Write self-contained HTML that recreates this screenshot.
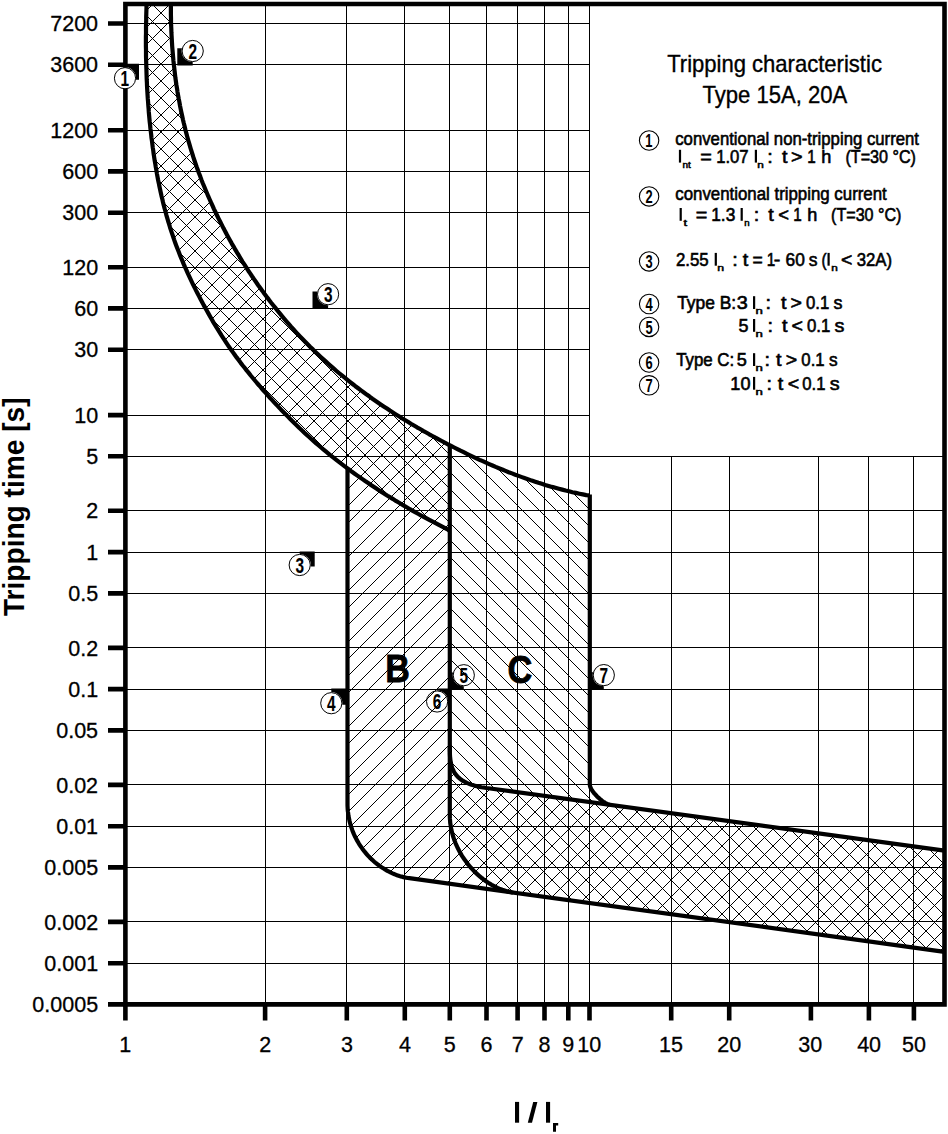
<!DOCTYPE html>
<html><head><meta charset="utf-8"><style>
html,body{margin:0;padding:0;background:#fff;}
svg{display:block;}
text{font-family:"Liberation Sans",sans-serif;}
.lg{stroke:#000;stroke-width:0.6;}
.md{stroke:#000;stroke-width:0.1;}
.tl{stroke:#000;stroke-width:0.3;}
.tt{stroke:#000;stroke-width:0.35;}
.sb{stroke:#000;stroke-width:0.5;}
.bc{stroke:#000;stroke-width:0.8;}
</style></head><body>
<svg width="948" height="1134" viewBox="0 0 948 1134">
<rect width="948" height="1134" fill="#fff"/>
<defs>
<clipPath id="cb"><path d="M146.4,2.0 146.4,4.0 146.5,7.1 146.4,10.4 146.3,13.6 146.2,16.9 146.2,20.2 146.1,23.4 146.0,26.7 146.0,30.0 146.0,33.3 145.9,36.5 145.9,39.8 145.9,43.1 145.9,46.4 146.0,49.6 146.0,52.9 146.0,56.2 146.1,59.5 146.2,62.8 146.3,66.1 146.4,69.3 146.5,72.6 146.6,75.9 146.7,79.2 146.9,82.5 147.0,85.7 147.2,89.0 147.4,92.3 147.6,95.6 147.8,98.9 148.1,102.1 148.3,105.4 148.6,108.7 148.8,112.0 149.1,115.2 149.4,118.5 149.7,121.8 150.1,125.0 150.4,128.3 150.8,131.5 151.2,134.8 151.5,138.0 152.0,141.3 152.4,144.5 152.8,147.8 153.3,151.0 153.7,154.2 154.2,157.5 154.7,160.7 155.3,163.9 155.8,167.1 156.4,170.3 156.9,173.6 157.5,176.8 158.1,180.0 158.8,183.2 159.4,186.3 160.1,189.5 160.8,192.7 161.5,195.9 162.3,199.0 163.0,202.2 163.8,205.4 164.6,208.5 165.5,211.6 166.3,214.8 167.2,217.9 168.1,221.0 169.1,224.1 170.0,227.3 171.0,230.4 172.0,233.4 173.1,236.5 174.1,239.6 175.2,242.7 176.3,245.7 177.5,248.8 178.7,251.8 179.9,254.9 181.1,257.9 182.4,260.9 183.6,263.9 184.9,266.9 186.3,269.9 187.6,272.9 189.0,275.9 190.4,278.9 191.8,281.8 193.2,284.8 194.7,287.7 196.1,290.6 197.6,293.5 199.1,296.4 200.6,299.3 202.2,302.2 203.7,305.1 205.3,307.9 206.9,310.8 208.5,313.6 210.1,316.5 211.7,319.3 213.3,322.1 215.0,324.9 216.7,327.7 218.4,330.4 220.1,333.2 221.8,335.9 223.6,338.6 225.4,341.4 227.2,344.1 229.0,346.8 230.9,349.4 232.8,352.1 234.7,354.8 236.6,357.4 238.6,360.0 240.5,362.6 242.5,365.2 244.6,367.8 246.6,370.4 248.7,372.9 250.7,375.5 252.8,378.0 254.9,380.5 257.0,383.0 259.2,385.5 261.3,388.0 263.5,390.5 265.7,392.9 267.8,395.3 270.0,397.8 272.2,400.2 274.4,402.6 276.7,404.9 278.9,407.3 281.1,409.7 283.4,412.0 285.6,414.3 287.9,416.6 290.2,418.9 292.5,421.2 294.8,423.5 297.1,425.7 299.4,428.0 301.8,430.2 304.1,432.4 306.5,434.6 308.9,436.8 311.3,439.0 313.7,441.1 316.2,443.3 318.7,445.4 321.1,447.5 323.6,449.6 326.1,451.7 328.7,453.8 331.2,455.8 333.8,457.9 336.3,459.9 338.9,461.9 341.5,463.9 344.1,465.9 346.8,467.9 347.5,467.9 347.5,803.3 347.5,805.4 347.6,807.5 347.7,809.5 347.9,811.5 348.2,813.5 348.4,815.5 348.8,817.4 349.2,819.4 349.6,821.3 350.1,823.2 350.6,825.0 351.2,826.9 351.8,828.7 352.4,830.4 353.1,832.2 353.8,833.9 354.6,835.7 355.4,837.3 356.3,839.0 357.1,840.6 358.1,842.2 359.0,843.8 360.0,845.3 361.0,846.8 362.1,848.3 363.1,849.8 364.2,851.2 365.4,852.6 366.5,854.0 367.7,855.3 368.9,856.6 370.2,857.9 371.4,859.1 372.7,860.3 374.0,861.5 375.3,862.6 376.7,863.7 378.1,864.7 379.4,865.8 380.8,866.8 382.3,867.7 383.7,868.6 385.1,869.5 386.6,870.4 388.0,871.2 389.5,871.9 391.0,872.7 392.5,873.4 394.0,874.0 395.5,874.6 397.0,875.2 398.6,875.7 400.1,876.2 401.6,876.6 403.1,877.1 404.7,877.4 406.2,877.7 407.7,878.0 409.3,878.2 944.5,951.8 944.5,850.6 486.5,788.0 484.7,787.7 483.1,787.5 481.4,787.2 479.9,786.9 478.3,786.6 476.9,786.2 475.5,785.9 474.1,785.5 472.8,785.1 471.5,784.7 470.3,784.3 469.1,783.8 468.0,783.4 466.9,782.9 465.9,782.4 464.9,781.9 463.9,781.4 463.0,780.8 462.1,780.3 461.3,779.7 460.5,779.1 459.7,778.5 459.0,777.9 458.3,777.3 457.7,776.6 457.0,776.0 456.5,775.3 455.9,774.6 455.4,773.9 454.9,773.2 454.4,772.5 454.0,771.7 453.6,771.0 453.2,770.2 452.9,769.4 452.5,768.6 452.2,767.8 451.9,767.0 451.7,766.1 451.4,765.3 451.2,764.4 451.0,763.5 450.9,762.6 450.7,761.7 450.5,760.8 450.4,759.9 450.3,758.9 450.2,758.0 450.1,757.0 450.0,756.1 450.0,755.1 449.9,754.1 449.9,753.1 449.9,752.0 449.8,751.0 449.8,750.0 449.8,748.9 449.8,747.9 449.8,746.8 449.8,444.3 447.9,444.3 444.8,442.7 441.7,441.0 438.6,439.3 435.5,437.7 432.4,436.0 429.3,434.3 426.2,432.5 423.1,430.8 420.1,429.0 417.0,427.3 414.0,425.5 410.9,423.7 407.9,421.8 404.9,420.0 401.9,418.2 398.9,416.3 395.9,414.4 392.9,412.5 389.9,410.6 387.0,408.6 384.1,406.7 381.1,404.7 378.2,402.7 375.3,400.7 372.4,398.7 369.6,396.6 366.7,394.6 363.9,392.5 361.0,390.4 358.2,388.3 355.4,386.2 352.6,384.0 349.9,381.8 347.1,379.6 344.4,377.4 341.6,375.2 338.9,373.0 336.2,370.7 333.6,368.4 330.9,366.1 328.3,363.8 325.7,361.4 323.1,359.1 320.5,356.7 317.9,354.3 315.4,351.9 312.9,349.4 310.3,347.0 307.9,344.5 305.4,342.0 303.0,339.5 300.5,336.9 298.1,334.4 295.7,331.8 293.4,329.2 291.0,326.6 288.7,323.9 286.4,321.3 284.1,318.6 281.8,315.9 279.6,313.2 277.4,310.5 275.2,307.7 273.0,305.0 270.8,302.2 268.7,299.4 266.5,296.6 264.4,293.8 262.4,290.9 260.3,288.1 258.2,285.2 256.2,282.3 254.2,279.4 252.2,276.5 250.3,273.6 248.3,270.7 246.4,267.7 244.5,264.7 242.6,261.8 240.8,258.8 239.0,255.7 237.1,252.7 235.3,249.7 233.6,246.6 231.8,243.6 230.1,240.5 228.4,237.4 226.7,234.3 225.1,231.2 223.4,228.1 221.8,224.9 220.2,221.8 218.6,218.6 217.1,215.5 215.6,212.3 214.0,209.1 212.6,205.9 211.1,202.7 209.7,199.5 208.2,196.2 206.9,193.0 205.5,189.7 204.2,186.5 202.8,183.2 201.5,179.9 200.3,176.6 199.0,173.3 197.8,170.0 196.6,166.7 195.5,163.4 194.3,160.0 193.2,156.7 192.2,153.3 191.1,150.0 190.1,146.6 189.1,143.2 188.1,139.8 187.2,136.5 186.3,133.1 185.4,129.7 184.6,126.2 183.7,122.8 182.9,119.4 182.2,116.0 181.4,112.5 180.7,109.1 180.0,105.6 179.4,102.2 178.7,98.7 178.1,95.3 177.5,91.8 177.0,88.3 176.4,84.9 175.9,81.4 175.4,77.9 175.0,74.4 174.6,70.9 174.2,67.4 173.8,63.9 173.4,60.4 173.1,56.9 172.8,53.4 172.5,49.9 172.2,46.3 172.0,42.8 171.8,39.3 171.6,35.8 171.4,32.2 171.3,28.7 171.1,25.2 171.0,21.6 171.0,18.1 170.9,14.6 170.9,11.0 170.9,7.5 170.8,4.0 170.8,2.0 Z"/></clipPath>
<clipPath id="cc"><path d="M146.4,2.0 146.4,4.0 146.5,7.1 146.4,10.4 146.3,13.6 146.2,16.9 146.2,20.2 146.1,23.4 146.0,26.7 146.0,30.0 146.0,33.3 145.9,36.5 145.9,39.8 145.9,43.1 145.9,46.4 146.0,49.6 146.0,52.9 146.0,56.2 146.1,59.5 146.2,62.8 146.3,66.1 146.4,69.3 146.5,72.6 146.6,75.9 146.7,79.2 146.9,82.5 147.0,85.7 147.2,89.0 147.4,92.3 147.6,95.6 147.8,98.9 148.1,102.1 148.3,105.4 148.6,108.7 148.8,112.0 149.1,115.2 149.4,118.5 149.7,121.8 150.1,125.0 150.4,128.3 150.8,131.5 151.2,134.8 151.5,138.0 152.0,141.3 152.4,144.5 152.8,147.8 153.3,151.0 153.7,154.2 154.2,157.5 154.7,160.7 155.3,163.9 155.8,167.1 156.4,170.3 156.9,173.6 157.5,176.8 158.1,180.0 158.8,183.2 159.4,186.3 160.1,189.5 160.8,192.7 161.5,195.9 162.3,199.0 163.0,202.2 163.8,205.4 164.6,208.5 165.5,211.6 166.3,214.8 167.2,217.9 168.1,221.0 169.1,224.1 170.0,227.3 171.0,230.4 172.0,233.4 173.1,236.5 174.1,239.6 175.2,242.7 176.3,245.7 177.5,248.8 178.7,251.8 179.9,254.9 181.1,257.9 182.4,260.9 183.6,263.9 184.9,266.9 186.3,269.9 187.6,272.9 189.0,275.9 190.4,278.9 191.8,281.8 193.2,284.8 194.7,287.7 196.1,290.6 197.6,293.5 199.1,296.4 200.6,299.3 202.2,302.2 203.7,305.1 205.3,307.9 206.9,310.8 208.5,313.6 210.1,316.5 211.7,319.3 213.3,322.1 215.0,324.9 216.7,327.7 218.4,330.4 220.1,333.2 221.8,335.9 223.6,338.6 225.4,341.4 227.2,344.1 229.0,346.8 230.9,349.4 232.8,352.1 234.7,354.8 236.6,357.4 238.6,360.0 240.5,362.6 242.5,365.2 244.6,367.8 246.6,370.4 248.7,372.9 250.7,375.5 252.8,378.0 254.9,380.5 257.0,383.0 259.2,385.5 261.3,388.0 263.5,390.5 265.7,392.9 267.8,395.3 270.0,397.8 272.2,400.2 274.4,402.6 276.7,404.9 278.9,407.3 281.1,409.7 283.4,412.0 285.6,414.3 287.9,416.6 290.2,418.9 292.5,421.2 294.8,423.5 297.1,425.7 299.4,428.0 301.8,430.2 304.1,432.4 306.5,434.6 308.9,436.8 311.3,439.0 313.7,441.1 316.2,443.3 318.7,445.4 321.1,447.5 323.6,449.6 326.1,451.7 328.7,453.8 331.2,455.8 333.8,457.9 336.3,459.9 338.9,461.9 341.5,463.9 344.1,465.9 346.8,467.9 349.4,469.8 352.0,471.8 354.7,473.7 357.4,475.6 360.1,477.5 362.8,479.4 365.5,481.3 368.2,483.1 370.9,484.9 373.7,486.8 376.4,488.6 379.2,490.4 381.9,492.2 384.7,493.9 387.5,495.7 390.3,497.4 393.1,499.1 395.9,500.9 398.7,502.5 401.5,504.2 404.3,505.9 407.1,507.5 409.9,509.2 412.8,510.8 415.6,512.4 418.5,514.0 421.3,515.6 424.1,517.1 427.0,518.7 429.8,520.2 432.7,521.7 435.6,523.2 438.4,524.7 441.3,526.2 444.1,527.6 447.0,529.1 449.8,531.1 449.8,814.8 449.8,816.7 449.9,818.7 450.1,820.7 450.2,822.6 450.5,824.6 450.8,826.5 451.1,828.5 451.5,830.4 452.0,832.3 452.5,834.1 453.0,836.0 453.6,837.9 454.2,839.7 454.9,841.5 455.6,843.3 456.4,845.1 457.2,846.8 458.0,848.6 458.9,850.3 459.8,852.0 460.7,853.6 461.7,855.3 462.7,856.9 463.8,858.5 464.9,860.1 466.0,861.6 467.1,863.1 468.3,864.6 469.5,866.0 470.7,867.5 472.0,868.9 473.2,870.2 474.5,871.6 475.9,872.9 477.2,874.1 478.6,875.4 480.0,876.6 481.3,877.7 482.8,878.8 484.2,879.9 485.6,881.0 487.1,882.0 488.6,883.0 490.1,883.9 491.6,884.8 493.1,885.6 494.6,886.4 496.1,887.2 497.6,887.9 499.2,888.6 500.7,889.2 502.3,889.8 503.8,890.3 505.3,890.8 506.9,891.3 508.4,891.6 510.0,892.0 511.5,892.3 513.1,892.5 944.5,951.8 944.5,850.6 609.4,804.8 609.2,804.7 608.9,804.7 608.6,804.6 608.3,804.5 608.0,804.4 607.7,804.2 607.3,804.1 607.0,803.9 606.6,803.7 606.2,803.5 605.8,803.3 605.4,803.1 605.0,802.8 604.6,802.5 604.2,802.3 603.8,802.0 603.3,801.7 602.9,801.4 602.5,801.0 602.0,800.7 601.6,800.4 601.1,800.0 600.7,799.6 600.2,799.3 599.8,798.9 599.3,798.5 598.9,798.1 598.4,797.7 598.0,797.3 597.6,796.9 597.1,796.4 596.7,796.0 596.3,795.6 595.9,795.1 595.5,794.7 595.1,794.3 594.7,793.8 594.3,793.4 593.9,792.9 593.6,792.5 593.2,792.0 592.9,791.6 592.6,791.1 592.3,790.7 592.0,790.2 591.7,789.8 591.4,789.3 591.2,788.9 591.0,788.4 590.7,788.0 590.6,787.6 590.4,787.1 590.2,786.7 590.1,786.3 590.0,785.9 589.9,785.5 589.8,785.1 589.8,784.7 589.8,784.3 589.8,495.4 586.3,495.1 582.8,494.4 579.4,493.7 575.9,492.9 572.4,492.2 569.0,491.3 565.6,490.5 562.2,489.6 558.8,488.7 555.4,487.8 552.0,486.9 548.6,485.9 545.2,484.9 541.8,483.8 538.5,482.8 535.2,481.7 531.8,480.6 528.5,479.4 525.2,478.3 521.9,477.1 518.6,475.9 515.3,474.7 512.0,473.4 508.7,472.2 505.5,470.9 502.2,469.5 498.9,468.2 495.7,466.9 492.5,465.5 489.2,464.1 486.0,462.7 482.8,461.2 479.6,459.8 476.4,458.3 473.2,456.8 470.0,455.3 466.9,453.8 463.7,452.2 460.5,450.7 457.4,449.1 454.2,447.5 451.1,445.9 447.9,444.3 444.8,442.7 441.7,441.0 438.6,439.3 435.5,437.7 432.4,436.0 429.3,434.3 426.2,432.5 423.1,430.8 420.1,429.0 417.0,427.3 414.0,425.5 410.9,423.7 407.9,421.8 404.9,420.0 401.9,418.2 398.9,416.3 395.9,414.4 392.9,412.5 389.9,410.6 387.0,408.6 384.1,406.7 381.1,404.7 378.2,402.7 375.3,400.7 372.4,398.7 369.6,396.6 366.7,394.6 363.9,392.5 361.0,390.4 358.2,388.3 355.4,386.2 352.6,384.0 349.9,381.8 347.1,379.6 344.4,377.4 341.6,375.2 338.9,373.0 336.2,370.7 333.6,368.4 330.9,366.1 328.3,363.8 325.7,361.4 323.1,359.1 320.5,356.7 317.9,354.3 315.4,351.9 312.9,349.4 310.3,347.0 307.9,344.5 305.4,342.0 303.0,339.5 300.5,336.9 298.1,334.4 295.7,331.8 293.4,329.2 291.0,326.6 288.7,323.9 286.4,321.3 284.1,318.6 281.8,315.9 279.6,313.2 277.4,310.5 275.2,307.7 273.0,305.0 270.8,302.2 268.7,299.4 266.5,296.6 264.4,293.8 262.4,290.9 260.3,288.1 258.2,285.2 256.2,282.3 254.2,279.4 252.2,276.5 250.3,273.6 248.3,270.7 246.4,267.7 244.5,264.7 242.6,261.8 240.8,258.8 239.0,255.7 237.1,252.7 235.3,249.7 233.6,246.6 231.8,243.6 230.1,240.5 228.4,237.4 226.7,234.3 225.1,231.2 223.4,228.1 221.8,224.9 220.2,221.8 218.6,218.6 217.1,215.5 215.6,212.3 214.0,209.1 212.6,205.9 211.1,202.7 209.7,199.5 208.2,196.2 206.9,193.0 205.5,189.7 204.2,186.5 202.8,183.2 201.5,179.9 200.3,176.6 199.0,173.3 197.8,170.0 196.6,166.7 195.5,163.4 194.3,160.0 193.2,156.7 192.2,153.3 191.1,150.0 190.1,146.6 189.1,143.2 188.1,139.8 187.2,136.5 186.3,133.1 185.4,129.7 184.6,126.2 183.7,122.8 182.9,119.4 182.2,116.0 181.4,112.5 180.7,109.1 180.0,105.6 179.4,102.2 178.7,98.7 178.1,95.3 177.5,91.8 177.0,88.3 176.4,84.9 175.9,81.4 175.4,77.9 175.0,74.4 174.6,70.9 174.2,67.4 173.8,63.9 173.4,60.4 173.1,56.9 172.8,53.4 172.5,49.9 172.2,46.3 172.0,42.8 171.8,39.3 171.6,35.8 171.4,32.2 171.3,28.7 171.1,25.2 171.0,21.6 171.0,18.1 170.9,14.6 170.9,11.0 170.9,7.5 170.8,4.0 170.8,2.0 Z"/></clipPath>
</defs>
<path clip-path="url(#cb)" d="M-854.00,960.00L106.00,0.00M-837.00,960.00L123.00,0.00M-820.00,960.00L140.00,0.00M-803.00,960.00L157.00,0.00M-786.00,960.00L174.00,0.00M-769.00,960.00L191.00,0.00M-752.00,960.00L208.00,0.00M-735.00,960.00L225.00,0.00M-718.00,960.00L242.00,0.00M-701.00,960.00L259.00,0.00M-684.00,960.00L276.00,0.00M-667.00,960.00L293.00,0.00M-650.00,960.00L310.00,0.00M-633.00,960.00L327.00,0.00M-616.00,960.00L344.00,0.00M-599.00,960.00L361.00,0.00M-582.00,960.00L378.00,0.00M-565.00,960.00L395.00,0.00M-548.00,960.00L412.00,0.00M-531.00,960.00L429.00,0.00M-514.00,960.00L446.00,0.00M-497.00,960.00L463.00,0.00M-480.00,960.00L480.00,0.00M-463.00,960.00L497.00,0.00M-446.00,960.00L514.00,0.00M-429.00,960.00L531.00,0.00M-412.00,960.00L548.00,0.00M-395.00,960.00L565.00,0.00M-378.00,960.00L582.00,0.00M-361.00,960.00L599.00,0.00M-344.00,960.00L616.00,0.00M-327.00,960.00L633.00,0.00M-310.00,960.00L650.00,0.00M-293.00,960.00L667.00,0.00M-276.00,960.00L684.00,0.00M-259.00,960.00L701.00,0.00M-242.00,960.00L718.00,0.00M-225.00,960.00L735.00,0.00M-208.00,960.00L752.00,0.00M-191.00,960.00L769.00,0.00M-174.00,960.00L786.00,0.00M-157.00,960.00L803.00,0.00M-140.00,960.00L820.00,0.00M-123.00,960.00L837.00,0.00M-106.00,960.00L854.00,0.00M-89.00,960.00L871.00,0.00M-72.00,960.00L888.00,0.00M-55.00,960.00L905.00,0.00M-38.00,960.00L922.00,0.00M-21.00,960.00L939.00,0.00M-4.00,960.00L956.00,0.00M13.00,960.00L973.00,0.00M30.00,960.00L990.00,0.00M47.00,960.00L1007.00,0.00M64.00,960.00L1024.00,0.00M81.00,960.00L1041.00,0.00M98.00,960.00L1058.00,0.00M115.00,960.00L1075.00,0.00M132.00,960.00L1092.00,0.00M149.00,960.00L1109.00,0.00M166.00,960.00L1126.00,0.00M183.00,960.00L1143.00,0.00M200.00,960.00L1160.00,0.00M217.00,960.00L1177.00,0.00M234.00,960.00L1194.00,0.00M251.00,960.00L1211.00,0.00M268.00,960.00L1228.00,0.00M285.00,960.00L1245.00,0.00M302.00,960.00L1262.00,0.00M319.00,960.00L1279.00,0.00M336.00,960.00L1296.00,0.00M353.00,960.00L1313.00,0.00M370.00,960.00L1330.00,0.00M387.00,960.00L1347.00,0.00M404.00,960.00L1364.00,0.00M421.00,960.00L1381.00,0.00M438.00,960.00L1398.00,0.00M455.00,960.00L1415.00,0.00M472.00,960.00L1432.00,0.00M489.00,960.00L1449.00,0.00M506.00,960.00L1466.00,0.00M523.00,960.00L1483.00,0.00M540.00,960.00L1500.00,0.00M557.00,960.00L1517.00,0.00M574.00,960.00L1534.00,0.00M591.00,960.00L1551.00,0.00M608.00,960.00L1568.00,0.00M625.00,960.00L1585.00,0.00M642.00,960.00L1602.00,0.00M659.00,960.00L1619.00,0.00M676.00,960.00L1636.00,0.00M693.00,960.00L1653.00,0.00M710.00,960.00L1670.00,0.00M727.00,960.00L1687.00,0.00M744.00,960.00L1704.00,0.00M761.00,960.00L1721.00,0.00M778.00,960.00L1738.00,0.00M795.00,960.00L1755.00,0.00M812.00,960.00L1772.00,0.00M829.00,960.00L1789.00,0.00M846.00,960.00L1806.00,0.00M863.00,960.00L1823.00,0.00M880.00,960.00L1840.00,0.00M897.00,960.00L1857.00,0.00M914.00,960.00L1874.00,0.00M931.00,960.00L1891.00,0.00M948.00,960.00L1908.00,0.00" stroke="#000" stroke-width="1.00" fill="none" shape-rendering="crispEdges"/>
<path clip-path="url(#cc)" d="M-855.00,0.00L105.00,960.00M-838.00,0.00L122.00,960.00M-821.00,0.00L139.00,960.00M-804.00,0.00L156.00,960.00M-787.00,0.00L173.00,960.00M-770.00,0.00L190.00,960.00M-753.00,0.00L207.00,960.00M-736.00,0.00L224.00,960.00M-719.00,0.00L241.00,960.00M-702.00,0.00L258.00,960.00M-685.00,0.00L275.00,960.00M-668.00,0.00L292.00,960.00M-651.00,0.00L309.00,960.00M-634.00,0.00L326.00,960.00M-617.00,0.00L343.00,960.00M-600.00,0.00L360.00,960.00M-583.00,0.00L377.00,960.00M-566.00,0.00L394.00,960.00M-549.00,0.00L411.00,960.00M-532.00,0.00L428.00,960.00M-515.00,0.00L445.00,960.00M-498.00,0.00L462.00,960.00M-481.00,0.00L479.00,960.00M-464.00,0.00L496.00,960.00M-447.00,0.00L513.00,960.00M-430.00,0.00L530.00,960.00M-413.00,0.00L547.00,960.00M-396.00,0.00L564.00,960.00M-379.00,0.00L581.00,960.00M-362.00,0.00L598.00,960.00M-345.00,0.00L615.00,960.00M-328.00,0.00L632.00,960.00M-311.00,0.00L649.00,960.00M-294.00,0.00L666.00,960.00M-277.00,0.00L683.00,960.00M-260.00,0.00L700.00,960.00M-243.00,0.00L717.00,960.00M-226.00,0.00L734.00,960.00M-209.00,0.00L751.00,960.00M-192.00,0.00L768.00,960.00M-175.00,0.00L785.00,960.00M-158.00,0.00L802.00,960.00M-141.00,0.00L819.00,960.00M-124.00,0.00L836.00,960.00M-107.00,0.00L853.00,960.00M-90.00,0.00L870.00,960.00M-73.00,0.00L887.00,960.00M-56.00,0.00L904.00,960.00M-39.00,0.00L921.00,960.00M-22.00,0.00L938.00,960.00M-5.00,0.00L955.00,960.00M12.00,0.00L972.00,960.00M29.00,0.00L989.00,960.00M46.00,0.00L1006.00,960.00M63.00,0.00L1023.00,960.00M80.00,0.00L1040.00,960.00M97.00,0.00L1057.00,960.00M114.00,0.00L1074.00,960.00M131.00,0.00L1091.00,960.00M148.00,0.00L1108.00,960.00M165.00,0.00L1125.00,960.00M182.00,0.00L1142.00,960.00M199.00,0.00L1159.00,960.00M216.00,0.00L1176.00,960.00M233.00,0.00L1193.00,960.00M250.00,0.00L1210.00,960.00M267.00,0.00L1227.00,960.00M284.00,0.00L1244.00,960.00M301.00,0.00L1261.00,960.00M318.00,0.00L1278.00,960.00M335.00,0.00L1295.00,960.00M352.00,0.00L1312.00,960.00M369.00,0.00L1329.00,960.00M386.00,0.00L1346.00,960.00M403.00,0.00L1363.00,960.00M420.00,0.00L1380.00,960.00M437.00,0.00L1397.00,960.00M454.00,0.00L1414.00,960.00M471.00,0.00L1431.00,960.00M488.00,0.00L1448.00,960.00M505.00,0.00L1465.00,960.00M522.00,0.00L1482.00,960.00M539.00,0.00L1499.00,960.00M556.00,0.00L1516.00,960.00M573.00,0.00L1533.00,960.00M590.00,0.00L1550.00,960.00M607.00,0.00L1567.00,960.00M624.00,0.00L1584.00,960.00M641.00,0.00L1601.00,960.00M658.00,0.00L1618.00,960.00M675.00,0.00L1635.00,960.00M692.00,0.00L1652.00,960.00M709.00,0.00L1669.00,960.00M726.00,0.00L1686.00,960.00M743.00,0.00L1703.00,960.00M760.00,0.00L1720.00,960.00M777.00,0.00L1737.00,960.00M794.00,0.00L1754.00,960.00M811.00,0.00L1771.00,960.00M828.00,0.00L1788.00,960.00M845.00,0.00L1805.00,960.00M862.00,0.00L1822.00,960.00M879.00,0.00L1839.00,960.00M896.00,0.00L1856.00,960.00M913.00,0.00L1873.00,960.00M930.00,0.00L1890.00,960.00M947.00,0.00L1907.00,960.00" stroke="#000" stroke-width="1.00" fill="none" shape-rendering="crispEdges"/>
<path d="M125.4,23.5H589.8 M125.4,64.5H589.8 M125.4,130.5H589.8 M125.4,171.5H589.8 M125.4,212.5H589.8 M125.4,267.5H589.8 M125.4,308.5H589.8 M125.4,349.5H589.8 M125.4,415.5H589.8 M125.4,456.5H944.5 M125.4,510.5H944.5 M125.4,552.5H944.5 M125.4,593.5H944.5 M125.4,647.5H944.5 M125.4,689.5H944.5 M125.4,730.5H944.5 M125.4,784.5H944.5 M125.4,826.5H944.5 M125.4,867.5H944.5 M125.4,921.5H944.5 M125.4,963.5H944.5 M265.5,4.0V1004.4 M346.5,4.0V1004.4 M404.5,4.0V1004.4 M449.5,4.0V1004.4 M486.5,4.0V1004.4 M517.5,4.0V1004.4 M544.5,4.0V1004.4 M568.5,4.0V1004.4 M589.5,4.0V1004.4 M671.5,456.3V1004.4 M729.5,456.3V1004.4 M818.5,456.3V1004.4 M868.5,456.3V1004.4 M913.5,456.3V1004.4" stroke="#000" stroke-width="1.0" fill="none" shape-rendering="crispEdges"/>
<polyline points="146.4,4.0 146.5,7.1 146.4,10.4 146.3,13.6 146.2,16.9 146.2,20.2 146.1,23.4 146.0,26.7 146.0,30.0 146.0,33.3 145.9,36.5 145.9,39.8 145.9,43.1 145.9,46.4 146.0,49.6 146.0,52.9 146.0,56.2 146.1,59.5 146.2,62.8 146.3,66.1 146.4,69.3 146.5,72.6 146.6,75.9 146.7,79.2 146.9,82.5 147.0,85.7 147.2,89.0 147.4,92.3 147.6,95.6 147.8,98.9 148.1,102.1 148.3,105.4 148.6,108.7 148.8,112.0 149.1,115.2 149.4,118.5 149.7,121.8 150.1,125.0 150.4,128.3 150.8,131.5 151.2,134.8 151.5,138.0 152.0,141.3 152.4,144.5 152.8,147.8 153.3,151.0 153.7,154.2 154.2,157.5 154.7,160.7 155.3,163.9 155.8,167.1 156.4,170.3 156.9,173.6 157.5,176.8 158.1,180.0 158.8,183.2 159.4,186.3 160.1,189.5 160.8,192.7 161.5,195.9 162.3,199.0 163.0,202.2 163.8,205.4 164.6,208.5 165.5,211.6 166.3,214.8 167.2,217.9 168.1,221.0 169.1,224.1 170.0,227.3 171.0,230.4 172.0,233.4 173.1,236.5 174.1,239.6 175.2,242.7 176.3,245.7 177.5,248.8 178.7,251.8 179.9,254.9 181.1,257.9 182.4,260.9 183.6,263.9 184.9,266.9 186.3,269.9 187.6,272.9 189.0,275.9 190.4,278.9 191.8,281.8 193.2,284.8 194.7,287.7 196.1,290.6 197.6,293.5 199.1,296.4 200.6,299.3 202.2,302.2 203.7,305.1 205.3,307.9 206.9,310.8 208.5,313.6 210.1,316.5 211.7,319.3 213.3,322.1 215.0,324.9 216.7,327.7 218.4,330.4 220.1,333.2 221.8,335.9 223.6,338.6 225.4,341.4 227.2,344.1 229.0,346.8 230.9,349.4 232.8,352.1 234.7,354.8 236.6,357.4 238.6,360.0 240.5,362.6 242.5,365.2 244.6,367.8 246.6,370.4 248.7,372.9 250.7,375.5 252.8,378.0 254.9,380.5 257.0,383.0 259.2,385.5 261.3,388.0 263.5,390.5 265.7,392.9 267.8,395.3 270.0,397.8 272.2,400.2 274.4,402.6 276.7,404.9 278.9,407.3 281.1,409.7 283.4,412.0 285.6,414.3 287.9,416.6 290.2,418.9 292.5,421.2 294.8,423.5 297.1,425.7 299.4,428.0 301.8,430.2 304.1,432.4 306.5,434.6 308.9,436.8 311.3,439.0 313.7,441.1 316.2,443.3 318.7,445.4 321.1,447.5 323.6,449.6 326.1,451.7 328.7,453.8 331.2,455.8 333.8,457.9 336.3,459.9 338.9,461.9 341.5,463.9 344.1,465.9 346.8,467.9 349.4,469.8 352.0,471.8 354.7,473.7 357.4,475.6 360.1,477.5 362.8,479.4 365.5,481.3 368.2,483.1 370.9,484.9 373.7,486.8 376.4,488.6 379.2,490.4 381.9,492.2 384.7,493.9 387.5,495.7 390.3,497.4 393.1,499.1 395.9,500.9 398.7,502.5 401.5,504.2 404.3,505.9 407.1,507.5 409.9,509.2 412.8,510.8 415.6,512.4 418.5,514.0 421.3,515.6 424.1,517.1 427.0,518.7 429.8,520.2 432.7,521.7 435.6,523.2 438.4,524.7 441.3,526.2 444.1,527.6 447.0,529.1 449.8,531.1" fill="none" stroke="#000" stroke-width="4.2" stroke-linejoin="round"/>
<polyline points="170.8,4.0 170.9,7.5 170.9,11.0 170.9,14.6 171.0,18.1 171.0,21.6 171.1,25.2 171.3,28.7 171.4,32.2 171.6,35.8 171.8,39.3 172.0,42.8 172.2,46.3 172.5,49.9 172.8,53.4 173.1,56.9 173.4,60.4 173.8,63.9 174.2,67.4 174.6,70.9 175.0,74.4 175.4,77.9 175.9,81.4 176.4,84.9 177.0,88.3 177.5,91.8 178.1,95.3 178.7,98.7 179.4,102.2 180.0,105.6 180.7,109.1 181.4,112.5 182.2,116.0 182.9,119.4 183.7,122.8 184.6,126.2 185.4,129.7 186.3,133.1 187.2,136.5 188.1,139.8 189.1,143.2 190.1,146.6 191.1,150.0 192.2,153.3 193.2,156.7 194.3,160.0 195.5,163.4 196.6,166.7 197.8,170.0 199.0,173.3 200.3,176.6 201.5,179.9 202.8,183.2 204.2,186.5 205.5,189.7 206.9,193.0 208.2,196.2 209.7,199.5 211.1,202.7 212.6,205.9 214.0,209.1 215.6,212.3 217.1,215.5 218.6,218.6 220.2,221.8 221.8,224.9 223.4,228.1 225.1,231.2 226.7,234.3 228.4,237.4 230.1,240.5 231.8,243.6 233.6,246.6 235.3,249.7 237.1,252.7 239.0,255.7 240.8,258.8 242.6,261.8 244.5,264.7 246.4,267.7 248.3,270.7 250.3,273.6 252.2,276.5 254.2,279.4 256.2,282.3 258.2,285.2 260.3,288.1 262.4,290.9 264.4,293.8 266.5,296.6 268.7,299.4 270.8,302.2 273.0,305.0 275.2,307.7 277.4,310.5 279.6,313.2 281.8,315.9 284.1,318.6 286.4,321.3 288.7,323.9 291.0,326.6 293.4,329.2 295.7,331.8 298.1,334.4 300.5,336.9 303.0,339.5 305.4,342.0 307.9,344.5 310.3,347.0 312.9,349.4 315.4,351.9 317.9,354.3 320.5,356.7 323.1,359.1 325.7,361.4 328.3,363.8 330.9,366.1 333.6,368.4 336.2,370.7 338.9,373.0 341.6,375.2 344.4,377.4 347.1,379.6 349.9,381.8 352.6,384.0 355.4,386.2 358.2,388.3 361.0,390.4 363.9,392.5 366.7,394.6 369.6,396.6 372.4,398.7 375.3,400.7 378.2,402.7 381.1,404.7 384.1,406.7 387.0,408.6 389.9,410.6 392.9,412.5 395.9,414.4 398.9,416.3 401.9,418.2 404.9,420.0 407.9,421.8 410.9,423.7 414.0,425.5 417.0,427.3 420.1,429.0 423.1,430.8 426.2,432.5 429.3,434.3 432.4,436.0 435.5,437.7 438.6,439.3 441.7,441.0 444.8,442.7 447.9,444.3 451.1,445.9 454.2,447.5 457.4,449.1 460.5,450.7 463.7,452.2 466.9,453.8 470.0,455.3 473.2,456.8 476.4,458.3 479.6,459.8 482.8,461.2 486.0,462.7 489.2,464.1 492.5,465.5 495.7,466.9 498.9,468.2 502.2,469.5 505.5,470.9 508.7,472.2 512.0,473.4 515.3,474.7 518.6,475.9 521.9,477.1 525.2,478.3 528.5,479.4 531.8,480.6 535.2,481.7 538.5,482.8 541.8,483.8 545.2,484.9 548.6,485.9 552.0,486.9 555.4,487.8 558.8,488.7 562.2,489.6 565.6,490.5 569.0,491.3 572.4,492.2 575.9,492.9 579.4,493.7 582.8,494.4 586.3,495.1 589.8,495.4" fill="none" stroke="#000" stroke-width="4.2" stroke-linejoin="round"/>
<polyline points="347.5,468.9 347.5,803.3 347.5,805.4 347.6,807.5 347.7,809.5 347.9,811.5 348.2,813.5 348.4,815.5 348.8,817.4 349.2,819.4 349.6,821.3 350.1,823.2 350.6,825.0 351.2,826.9 351.8,828.7 352.4,830.4 353.1,832.2 353.8,833.9 354.6,835.7 355.4,837.3 356.3,839.0 357.1,840.6 358.1,842.2 359.0,843.8 360.0,845.3 361.0,846.8 362.1,848.3 363.1,849.8 364.2,851.2 365.4,852.6 366.5,854.0 367.7,855.3 368.9,856.6 370.2,857.9 371.4,859.1 372.7,860.3 374.0,861.5 375.3,862.6 376.7,863.7 378.1,864.7 379.4,865.8 380.8,866.8 382.3,867.7 383.7,868.6 385.1,869.5 386.6,870.4 388.0,871.2 389.5,871.9 391.0,872.7 392.5,873.4 394.0,874.0 395.5,874.6 397.0,875.2 398.6,875.7 400.1,876.2 401.6,876.6 403.1,877.1 404.7,877.4 406.2,877.7 407.7,878.0 409.3,878.2 944.5,951.8" fill="none" stroke="#000" stroke-width="4.2" stroke-linejoin="round"/>
<polyline points="449.8,444.3 449.8,814.8 449.8,816.7 449.9,818.7 450.1,820.7 450.2,822.6 450.5,824.6 450.8,826.5 451.1,828.5 451.5,830.4 452.0,832.3 452.5,834.1 453.0,836.0 453.6,837.9 454.2,839.7 454.9,841.5 455.6,843.3 456.4,845.1 457.2,846.8 458.0,848.6 458.9,850.3 459.8,852.0 460.7,853.6 461.7,855.3 462.7,856.9 463.8,858.5 464.9,860.1 466.0,861.6 467.1,863.1 468.3,864.6 469.5,866.0 470.7,867.5 472.0,868.9 473.2,870.2 474.5,871.6 475.9,872.9 477.2,874.1 478.6,875.4 480.0,876.6 481.3,877.7 482.8,878.8 484.2,879.9 485.6,881.0 487.1,882.0 488.6,883.0 490.1,883.9 491.6,884.8 493.1,885.6 494.6,886.4 496.1,887.2 497.6,887.9 499.2,888.6 500.7,889.2 502.3,889.8 503.8,890.3 505.3,890.8 506.9,891.3 508.4,891.6 510.0,892.0 511.5,892.3 513.1,892.5" fill="none" stroke="#000" stroke-width="4.2" stroke-linejoin="round"/>
<polyline points="449.8,746.8 449.8,747.9 449.8,748.9 449.8,750.0 449.8,751.0 449.9,752.0 449.9,753.1 449.9,754.1 450.0,755.1 450.0,756.1 450.1,757.0 450.2,758.0 450.3,758.9 450.4,759.9 450.5,760.8 450.7,761.7 450.9,762.6 451.0,763.5 451.2,764.4 451.4,765.3 451.7,766.1 451.9,767.0 452.2,767.8 452.5,768.6 452.9,769.4 453.2,770.2 453.6,771.0 454.0,771.7 454.4,772.5 454.9,773.2 455.4,773.9 455.9,774.6 456.5,775.3 457.0,776.0 457.7,776.6 458.3,777.3 459.0,777.9 459.7,778.5 460.5,779.1 461.3,779.7 462.1,780.3 463.0,780.8 463.9,781.4 464.9,781.9 465.9,782.4 466.9,782.9 468.0,783.4 469.1,783.8 470.3,784.3 471.5,784.7 472.8,785.1 474.1,785.5 475.5,785.9 476.9,786.2 478.3,786.6 479.9,786.9 481.4,787.2 483.1,787.5 484.7,787.7 486.5,788.0 944.5,850.6" fill="none" stroke="#000" stroke-width="4.2" stroke-linejoin="round"/>
<polyline points="589.8,494.4 589.8,784.3 589.8,784.7 589.8,785.1 589.9,785.5 590.0,785.9 590.1,786.3 590.2,786.7 590.4,787.1 590.6,787.6 590.7,788.0 591.0,788.4 591.2,788.9 591.4,789.3 591.7,789.8 592.0,790.2 592.3,790.7 592.6,791.1 592.9,791.6 593.2,792.0 593.6,792.5 593.9,792.9 594.3,793.4 594.7,793.8 595.1,794.3 595.5,794.7 595.9,795.1 596.3,795.6 596.7,796.0 597.1,796.4 597.6,796.9 598.0,797.3 598.4,797.7 598.9,798.1 599.3,798.5 599.8,798.9 600.2,799.3 600.7,799.6 601.1,800.0 601.6,800.4 602.0,800.7 602.5,801.0 602.9,801.4 603.3,801.7 603.8,802.0 604.2,802.3 604.6,802.5 605.0,802.8 605.4,803.1 605.8,803.3 606.2,803.5 606.6,803.7 607.0,803.9 607.3,804.1 607.7,804.2 608.0,804.4 608.3,804.5 608.6,804.6 608.9,804.7 609.2,804.7 609.4,804.8" fill="none" stroke="#000" stroke-width="4.2" stroke-linejoin="round"/>
<path d="M125.4,4.0 H944.5 V1004.4 H125.4 Z" fill="none" stroke="#000" stroke-width="4.6"/>
<path d="M108,23.5H125.4 M108,64.8H125.4 M108,130.2H125.4 M108,171.4H125.4 M108,212.7H125.4 M108,267.2H125.4 M108,308.4H125.4 M108,349.7H125.4 M108,415.1H125.4 M108,456.3H125.4 M108,510.8H125.4 M108,552.1H125.4 M108,593.4H125.4 M108,647.9H125.4 M108,689.1H125.4 M108,730.4H125.4 M108,784.9H125.4 M108,826.2H125.4 M108,867.4H125.4 M108,921.9H125.4 M108,963.2H125.4 M108,1004.4H125.4 M125.4,1004.4V1020.5 M265.1,1004.4V1020.5 M346.8,1004.4V1020.5 M404.8,1004.4V1020.5 M449.8,1004.4V1020.5 M486.5,1004.4V1020.5 M517.6,1004.4V1020.5 M544.5,1004.4V1020.5 M568.3,1004.4V1020.5 M589.5,1004.4V1020.5 M671.2,1004.4V1020.5 M729.2,1004.4V1020.5 M810.9,1004.4V1020.5 M868.9,1004.4V1020.5 M913.9,1004.4V1020.5" stroke="#000" stroke-width="4.6" fill="none"/>
<g fill="#000">
<text x="98.1" y="31.1" font-size="21.5" text-anchor="end" class="tl">7200</text>
<text x="98.1" y="72.4" font-size="21.5" text-anchor="end" class="tl">3600</text>
<text x="98.1" y="137.8" font-size="21.5" text-anchor="end" class="tl">1200</text>
<text x="98.1" y="179.0" font-size="21.5" text-anchor="end" class="tl">600</text>
<text x="98.1" y="220.3" font-size="21.5" text-anchor="end" class="tl">300</text>
<text x="98.1" y="274.8" font-size="21.5" text-anchor="end" class="tl">120</text>
<text x="98.1" y="316.0" font-size="21.5" text-anchor="end" class="tl">60</text>
<text x="98.1" y="357.3" font-size="21.5" text-anchor="end" class="tl">30</text>
<text x="98.1" y="422.7" font-size="21.5" text-anchor="end" class="tl">10</text>
<text x="98.1" y="463.9" font-size="21.5" text-anchor="end" class="tl">5</text>
<text x="98.1" y="518.4" font-size="21.5" text-anchor="end" class="tl">2</text>
<text x="98.1" y="559.7" font-size="21.5" text-anchor="end" class="tl">1</text>
<text x="98.1" y="601.0" font-size="21.5" text-anchor="end" class="tl">0.5</text>
<text x="98.1" y="655.5" font-size="21.5" text-anchor="end" class="tl">0.2</text>
<text x="98.1" y="696.7" font-size="21.5" text-anchor="end" class="tl">0.1</text>
<text x="98.1" y="738.0" font-size="21.5" text-anchor="end" class="tl">0.05</text>
<text x="98.1" y="792.5" font-size="21.5" text-anchor="end" class="tl">0.02</text>
<text x="98.1" y="833.8" font-size="21.5" text-anchor="end" class="tl">0.01</text>
<text x="98.1" y="875.0" font-size="21.5" text-anchor="end" class="tl">0.005</text>
<text x="98.1" y="929.5" font-size="21.5" text-anchor="end" class="tl">0.002</text>
<text x="98.1" y="970.8" font-size="21.5" text-anchor="end" class="tl">0.001</text>
<text x="98.1" y="1012.0" font-size="21.5" text-anchor="end" class="tl">0.0005</text>
<text transform="translate(119.17 1052.40) scale(1.000 1)" font-size="21.50" class="tl">1</text>
<text transform="translate(259.14 1052.40) scale(1.000 1)" font-size="21.50" class="tl">2</text>
<text transform="translate(340.92 1052.40) scale(1.000 1)" font-size="21.50" class="tl">3</text>
<text transform="translate(398.90 1052.40) scale(1.000 1)" font-size="21.50" class="tl">4</text>
<text transform="translate(443.83 1052.40) scale(1.000 1)" font-size="21.50" class="tl">5</text>
<text transform="translate(480.52 1052.40) scale(1.000 1)" font-size="21.50" class="tl">6</text>
<text transform="translate(511.64 1052.40) scale(1.000 1)" font-size="21.50" class="tl">7</text>
<text transform="translate(538.50 1052.40) scale(1.000 1)" font-size="21.50" class="tl">8</text>
<text transform="translate(562.30 1052.40) scale(1.000 1)" font-size="21.50" class="tl">9</text>
<text transform="translate(577.19 1052.40) scale(1.000 1)" font-size="21.50" class="tl">10</text>
<text transform="translate(658.92 1052.40) scale(1.000 1)" font-size="21.50" class="tl">15</text>
<text transform="translate(717.17 1052.40) scale(1.000 1)" font-size="21.50" class="tl">20</text>
<text transform="translate(798.37 1052.40) scale(1.000 1)" font-size="21.50" class="tl">30</text>
<text transform="translate(857.14 1052.40) scale(1.000 1)" font-size="21.50" class="tl">40</text>
<text transform="translate(901.96 1052.40) scale(1.000 1)" font-size="21.50" class="tl">50</text>
<path d="M139.00,63.80 V79.70 H136.00 A11.10,11.10 0 0 0 125.00,67.10 V63.80 Z" fill="#000"/>
<circle cx="125.0" cy="78.2" r="10.60" fill="#fff" stroke="#000" stroke-width="1.0"/>
<text transform="translate(120.42 86.10) scale(0.700 1)" font-size="22.00" font-weight="bold" class="md">1</text>
<path d="M177.30,65.40 V48.20 H181.96 A11.10,11.10 0 0 0 192.70,62.10 V65.40 Z" fill="#000"/>
<circle cx="192.7" cy="51.0" r="10.60" fill="none" stroke="#000" stroke-width="1.0"/>
<text transform="translate(188.47 58.90) scale(0.700 1)" font-size="22.00" font-weight="bold" class="md">2</text>
<path d="M312.50,309.00 V291.40 H317.36 A11.10,11.10 0 0 0 328.10,305.30 V309.00 Z" fill="#000"/>
<circle cx="328.1" cy="294.2" r="10.60" fill="none" stroke="#000" stroke-width="1.0"/>
<text transform="translate(323.90 302.10) scale(0.700 1)" font-size="22.00" font-weight="bold" class="md">3</text>
<path d="M314.70,551.40 V566.50 H310.70 A11.10,11.10 0 0 0 299.70,553.90 V551.40 Z" fill="#000"/>
<circle cx="299.7" cy="565.0" r="10.60" fill="none" stroke="#000" stroke-width="1.0"/>
<text transform="translate(295.50 572.90) scale(0.700 1)" font-size="22.00" font-weight="bold" class="md">3</text>
<path d="M348.60,688.50 V704.70 H342.30 A11.10,11.10 0 0 0 331.30,692.10 V688.50 Z" fill="#000"/>
<circle cx="331.3" cy="703.2" r="10.60" fill="none" stroke="#000" stroke-width="1.0"/>
<text transform="translate(326.95 711.10) scale(0.700 1)" font-size="22.00" font-weight="bold" class="md">4</text>
<path d="M448.70,690.10 V672.40 H453.06 A11.10,11.10 0 0 0 463.80,686.30 V690.10 Z" fill="#000"/>
<circle cx="463.8" cy="675.2" r="10.60" fill="none" stroke="#000" stroke-width="1.0"/>
<text transform="translate(459.49 683.10) scale(0.700 1)" font-size="22.00" font-weight="bold" class="md">5</text>
<path d="M450.90,688.50 V703.00 H448.10 A11.10,11.10 0 0 0 437.10,690.40 V688.50 Z" fill="#000"/>
<circle cx="437.1" cy="701.5" r="10.60" fill="none" stroke="#000" stroke-width="1.0"/>
<text transform="translate(432.83 709.40) scale(0.700 1)" font-size="22.00" font-weight="bold" class="md">6</text>
<path d="M588.70,690.10 V672.30 H593.06 A11.10,11.10 0 0 0 603.80,686.20 V690.10 Z" fill="#000"/>
<circle cx="603.8" cy="675.1" r="10.60" fill="none" stroke="#000" stroke-width="1.0"/>
<text transform="translate(599.53 683.00) scale(0.700 1)" font-size="22.00" font-weight="bold" class="md">7</text>
<text transform="translate(385.28 681.60) scale(0.897 1)" font-size="38.00" font-weight="bold" class="bc">B</text>
<text transform="translate(507.53 682.80) scale(0.904 1)" font-size="38.00" font-weight="bold" class="bc">C</text>
<circle cx="649.1" cy="140.5" r="9.7" fill="#fff" stroke="#000" stroke-width="1.1"/>
<text transform="translate(645.26 147.10) scale(0.680 1)" font-size="19.00" font-weight="bold">1</text>
<circle cx="649.1" cy="196.4" r="9.7" fill="#fff" stroke="#000" stroke-width="1.1"/>
<text transform="translate(645.55 203.00) scale(0.680 1)" font-size="19.00" font-weight="bold">2</text>
<circle cx="649.1" cy="261.4" r="9.7" fill="#fff" stroke="#000" stroke-width="1.1"/>
<text transform="translate(645.58 268.00) scale(0.680 1)" font-size="19.00" font-weight="bold">3</text>
<circle cx="649.1" cy="304.0" r="9.7" fill="#fff" stroke="#000" stroke-width="1.1"/>
<text transform="translate(645.45 310.60) scale(0.680 1)" font-size="19.00" font-weight="bold">4</text>
<circle cx="649.1" cy="326.9" r="9.7" fill="#fff" stroke="#000" stroke-width="1.1"/>
<text transform="translate(645.48 333.50) scale(0.680 1)" font-size="19.00" font-weight="bold">5</text>
<circle cx="649.1" cy="362.5" r="9.7" fill="#fff" stroke="#000" stroke-width="1.1"/>
<text transform="translate(645.51 369.10) scale(0.680 1)" font-size="19.00" font-weight="bold">6</text>
<circle cx="649.1" cy="385.3" r="9.7" fill="#fff" stroke="#000" stroke-width="1.1"/>
<text transform="translate(645.51 391.90) scale(0.680 1)" font-size="19.00" font-weight="bold">7</text>
<text transform="translate(667.15 72.30) scale(0.959 1)" font-size="23.00" class="tt">Tripping characteristic</text>
<text transform="translate(702.55 102.70) scale(0.960 1)" font-size="23.00" class="tt">Type 15A, 20A</text>
<text transform="translate(675.25 144.60) scale(0.930 1)" font-size="18.00" class="lg">conventional non-tripping current</text>
<rect x="678.9" y="149.8" width="2.2" height="12.8" fill="#000"/>
<text transform="translate(682.55 167.80) scale(1.136 1)" font-size="8.80" class="sb">nt</text>
<text transform="translate(700.21 162.60) scale(1.100 1)" font-size="18.00" class="lg">=</text>
<text transform="translate(716.15 162.60) scale(0.928 1)" font-size="18.00" class="lg">1.07</text>
<rect x="754.8" y="149.8" width="2.2" height="12.8" fill="#000"/>
<text transform="translate(757.24 167.80) scale(1.337 1)" font-size="8.80" class="sb">n</text>
<text transform="translate(767.23 162.60) scale(1.100 1)" font-size="18.00" class="lg">:</text>
<text transform="translate(782.03 162.60) scale(1.100 1)" font-size="18.00" class="lg">t</text>
<text transform="translate(790.91 162.60) scale(1.100 1)" font-size="18.00" class="lg">&gt;</text>
<text transform="translate(807.36 162.60) scale(0.850 1)" font-size="18.00" class="lg">1</text>
<text transform="translate(821.13 162.60) scale(1.005 1)" font-size="18.00" class="lg">h</text>
<text transform="translate(845.43 162.60) scale(0.897 1)" font-size="18.00" class="lg">(T=30 °C)</text>
<text transform="translate(675.24 199.70) scale(0.936 1)" font-size="18.00" class="lg">conventional tripping current</text>
<rect x="679.6" y="208.0" width="2.2" height="12.8" fill="#000"/>
<text transform="translate(683.51 226.00) scale(1.471 1)" font-size="8.80" class="sb">t</text>
<text transform="translate(695.76 220.80) scale(1.100 1)" font-size="18.00" class="lg">=</text>
<text transform="translate(711.20 220.80) scale(0.962 1)" font-size="18.00" class="lg">1.3</text>
<rect x="740.6" y="208.0" width="2.2" height="12.8" fill="#000"/>
<text transform="translate(744.17 226.00) scale(1.096 1)" font-size="8.80" class="sb">n</text>
<text transform="translate(753.68 220.80) scale(1.100 1)" font-size="18.00" class="lg">:</text>
<text transform="translate(768.33 220.80) scale(1.100 1)" font-size="18.00" class="lg">t</text>
<text transform="translate(778.18 220.80) scale(1.019 1)" font-size="18.00" class="lg">&lt;</text>
<text transform="translate(793.21 220.80) scale(0.850 1)" font-size="18.00" class="lg">1</text>
<text transform="translate(807.33 220.80) scale(1.005 1)" font-size="18.00" class="lg">h</text>
<text transform="translate(831.03 220.80) scale(0.895 1)" font-size="18.00" class="lg">(T=30 °C)</text>
<text transform="translate(675.96 265.70) scale(0.934 1)" font-size="18.00" class="lg">2.55</text>
<rect x="714.7" y="252.9" width="2.2" height="12.8" fill="#000"/>
<text transform="translate(717.20 270.90) scale(1.390 1)" font-size="8.80" class="sb">n</text>
<text transform="translate(732.23 265.70) scale(1.100 1)" font-size="18.00" class="lg">:</text>
<text transform="translate(742.63 265.70) scale(1.100 1)" font-size="18.00" class="lg">t</text>
<text transform="translate(752.62 265.70) scale(0.974 1)" font-size="18.00" class="lg">=</text>
<text transform="translate(766.81 265.70) scale(0.850 1)" font-size="18.00" class="lg">1</text>
<text transform="translate(773.83 265.70) scale(1.100 1)" font-size="18.00" class="lg">-</text>
<text transform="translate(785.53 265.70) scale(0.964 1)" font-size="18.00" class="lg">60</text>
<text transform="translate(808.68 265.70) scale(0.971 1)" font-size="18.00" class="lg">s</text>
<text transform="translate(821.40 265.70) scale(0.850 1)" font-size="18.00" class="lg">(</text>
<rect x="827.5" y="252.9" width="2.2" height="12.8" fill="#000"/>
<text transform="translate(831.24 270.90) scale(1.337 1)" font-size="8.80" class="sb">n</text>
<text transform="translate(841.03 265.70) scale(1.077 1)" font-size="18.00" class="lg">&lt;</text>
<text transform="translate(856.63 265.70) scale(0.931 1)" font-size="18.00" class="lg">32A)</text>
<text transform="translate(677.16 309.00) scale(0.967 1)" font-size="18.00" class="lg">Type B:</text>
<text transform="translate(736.70 309.00) scale(1.100 1)" font-size="18.00" class="lg">3</text>
<rect x="753.0" y="296.2" width="2.2" height="12.8" fill="#000"/>
<text transform="translate(755.54 314.20) scale(1.497 1)" font-size="8.80" class="sb">n</text>
<text transform="translate(765.53 309.00) scale(1.100 1)" font-size="18.00" class="lg">:</text>
<text transform="translate(781.08 309.00) scale(1.100 1)" font-size="18.00" class="lg">t</text>
<text transform="translate(790.52 309.00) scale(1.088 1)" font-size="18.00" class="lg">&gt;</text>
<text transform="translate(806.03 309.00) scale(0.932 1)" font-size="18.00" class="lg">0.1</text>
<text transform="translate(833.46 309.00) scale(0.996 1)" font-size="18.00" class="lg">s</text>
<text transform="translate(738.58 331.80) scale(0.994 1)" font-size="18.00" class="lg">5</text>
<rect x="753.0" y="319.0" width="2.2" height="12.8" fill="#000"/>
<text transform="translate(755.54 337.00) scale(1.497 1)" font-size="8.80" class="sb">n</text>
<text transform="translate(767.53 331.80) scale(1.100 1)" font-size="18.00" class="lg">:</text>
<text transform="translate(782.03 331.80) scale(1.100 1)" font-size="18.00" class="lg">t</text>
<text transform="translate(791.52 331.80) scale(1.088 1)" font-size="18.00" class="lg">&lt;</text>
<text transform="translate(806.93 331.80) scale(0.936 1)" font-size="18.00" class="lg">0.1</text>
<text transform="translate(834.45 331.80) scale(1.100 1)" font-size="18.00" class="lg">s</text>
<text transform="translate(676.18 366.00) scale(0.936 1)" font-size="18.00" class="lg">Type C:</text>
<text transform="translate(736.68 366.00) scale(1.006 1)" font-size="18.00" class="lg">5</text>
<rect x="753.0" y="353.2" width="2.2" height="12.8" fill="#000"/>
<text transform="translate(755.54 371.20) scale(1.497 1)" font-size="8.80" class="sb">n</text>
<text transform="translate(764.53 366.00) scale(1.100 1)" font-size="18.00" class="lg">:</text>
<text transform="translate(775.88 366.00) scale(1.100 1)" font-size="18.00" class="lg">t</text>
<text transform="translate(785.82 366.00) scale(1.088 1)" font-size="18.00" class="lg">&gt;</text>
<text transform="translate(801.33 366.00) scale(0.932 1)" font-size="18.00" class="lg">0.1</text>
<text transform="translate(828.98 366.00) scale(0.958 1)" font-size="18.00" class="lg">s</text>
<text transform="translate(730.34 389.70) scale(1.005 1)" font-size="18.00" class="lg">10</text>
<rect x="753.0" y="376.9" width="2.2" height="12.8" fill="#000"/>
<text transform="translate(755.54 394.90) scale(1.497 1)" font-size="8.80" class="sb">n</text>
<text transform="translate(766.53 389.70) scale(1.100 1)" font-size="18.00" class="lg">:</text>
<text transform="translate(777.83 389.70) scale(1.100 1)" font-size="18.00" class="lg">t</text>
<text transform="translate(787.72 389.70) scale(1.088 1)" font-size="18.00" class="lg">&lt;</text>
<text transform="translate(802.33 389.70) scale(0.927 1)" font-size="18.00" class="lg">0.1</text>
<text transform="translate(829.81 389.70) scale(1.098 1)" font-size="18.00" class="lg">s</text>
<g transform="rotate(-90)">
<text transform="translate(-616.08 23.80) scale(0.970 1)" font-size="29.00" font-weight="bold">Tripping time [s]</text>
</g>
<rect x="515" y="1101.9" width="4.1" height="20.8" fill="#000"/>
<path d="M527.8,1122.7 L532.0,1122.7 L537.4,1101.9 L533.2,1101.9 Z" fill="#000"/>
<rect x="546" y="1101.9" width="4.1" height="20.8" fill="#000"/>
<path d="M553,1131.7 V1123 H558.2 V1125.6 H556 V1131.7 Z" fill="#000"/>
</g>
</svg></body></html>
